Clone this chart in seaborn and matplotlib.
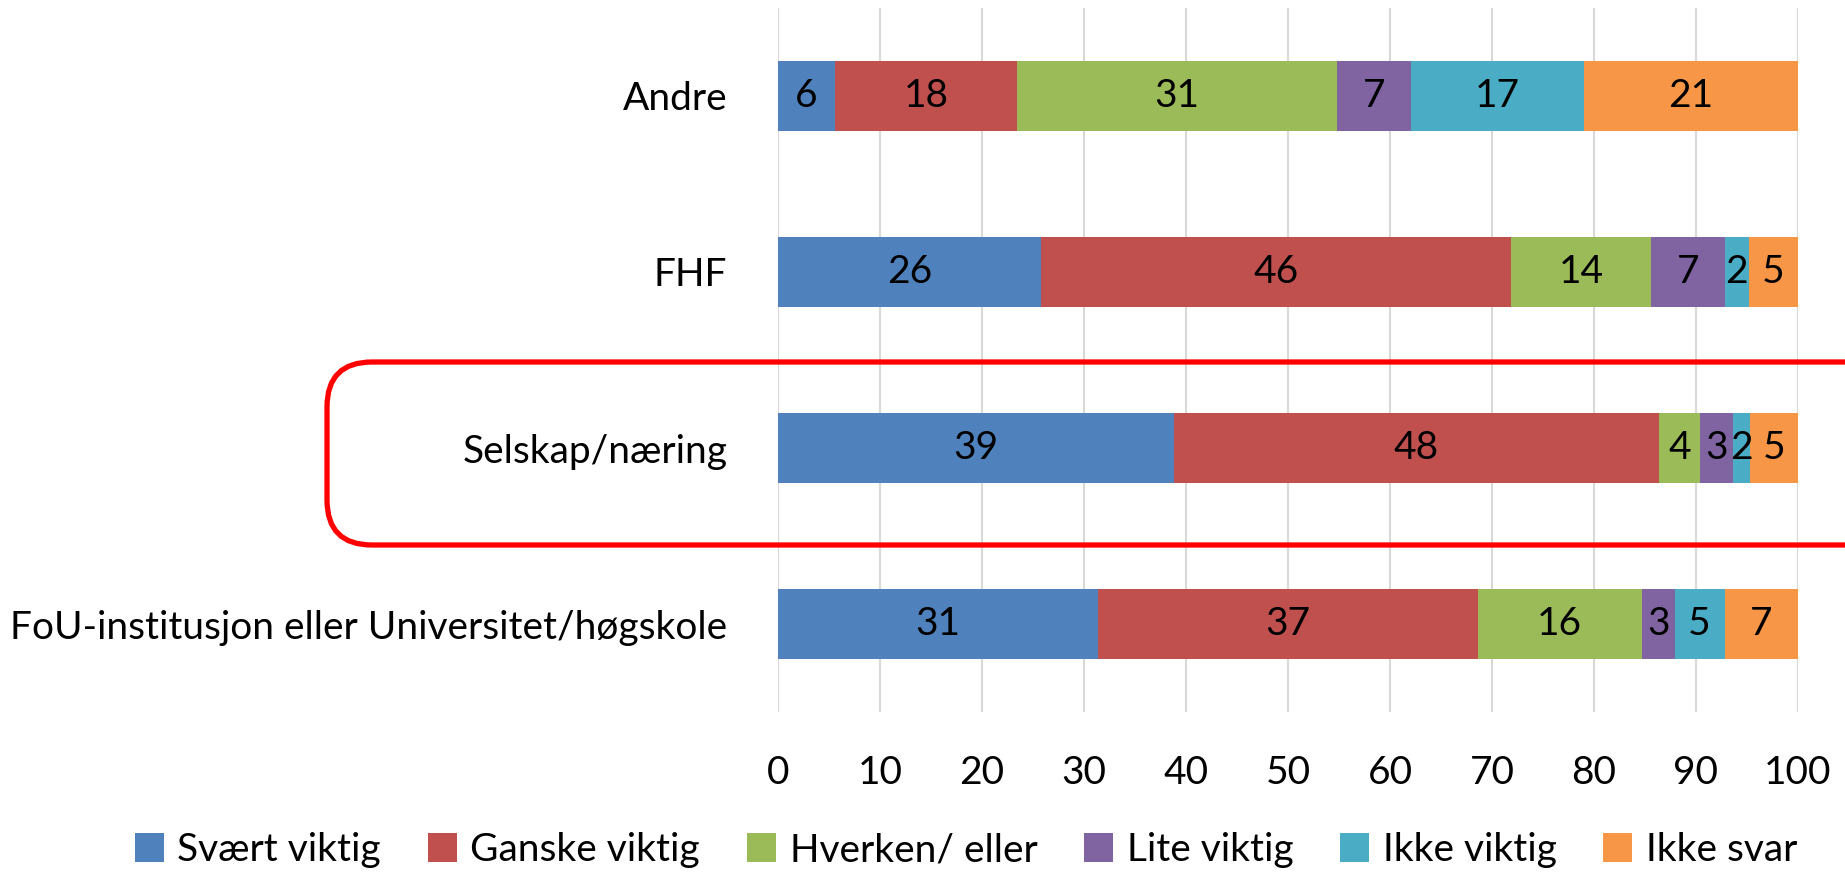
import matplotlib
matplotlib.use("Agg")
import matplotlib.pyplot as plt
from matplotlib.patches import FancyBboxPatch, Patch
from matplotlib.transforms import IdentityTransform
import numpy as np
import pandas as pd
import seaborn as sns

categories = ["Andre", "FHF", "Selskap/næring", "FoU-institusjon eller Universitet/høgskole"]
series = ["Svært viktig", "Ganske viktig", "Hverken/ eller", "Lite viktig", "Ikke viktig", "Ikke svar"]
svaert = [5.6, 25.8, 38.8, 31.4]
ganske = [17.8, 46.1, 47.6, 37.2]
hverken = [31.4, 13.7, 4.0, 16.1]
lite = [7.3, 7.2, 3.2, 3.2]
ikke = [16.9, 2.4, 1.7, 4.9]
ikke_svar = [21.0, 4.8, 4.7, 7.2]
colors = ["#4F81BD", "#C0504D", "#9BBB59", "#8064A2", "#4BACC6", "#F79646"]

sns.set_style("white")
plt.rcParams['font.family'] = ['Lato', 'DejaVu Sans']
plt.rcParams['text.color'] = 'black'
plt.rcParams['xtick.color'] = 'black'
plt.rcParams['ytick.color'] = 'black'
FS = 28

df = pd.DataFrame(np.array([svaert, ganske, hverken, lite, ikke, ikke_svar]).T,
                  columns=series)
df.insert(0, "cat", categories)
cum = df[series].cumsum(axis=1)

fig = plt.figure(figsize=(18.45, 8.72), dpi=100)
ax = fig.add_axes([0.4217, 1 - 712 / 872, 0.9745 - 0.4217, 704 / 872])

# draw cumulative bars from the last series to the first so each visible segment is its value
for s, c in reversed(list(zip(series, colors))):
    sns.barplot(x=cum[s], y=df["cat"], orient="h", color=c, width=0.4,
                linewidth=0, saturation=1, ax=ax)

for i in range(len(categories)):
    left = 0
    for s in series:
        v = df.loc[i, s]
        ax.text(left + v / 2, i, f"{v:.0f}", ha="center", va="center",
                fontsize=FS, color="black")
        left += v

ax.set_xlim(0, 100)
ax.set_ylim(3.5, -0.5)
ax.set_xticks(range(0, 101, 10))
ax.xaxis.grid(True, color="#D9D9D9", linewidth=1.5)
ax.set_axisbelow(True)
for sp in ax.spines.values():
    sp.set_visible(False)
ax.tick_params(axis="x", length=0, labelsize=FS, pad=31)
ax.tick_params(axis="y", length=0, labelsize=FS, pad=36.5)
ax.set_xlabel("")
ax.set_ylabel("")

handles = [Patch(facecolor=c, edgecolor="none") for c in colors]
fig.legend(handles, series, loc="center", bbox_to_anchor=(0.5236, 1 - 850 / 872),
           ncol=6, frameon=False, fontsize=FS, handlelength=0.75, handleheight=0.75,
           handletextpad=0.35, columnspacing=1.2, borderaxespad=0)

box = FancyBboxPatch((327, 872 - 545), 1600, 183,
                     boxstyle="round,pad=0,rounding_size=45",
                     transform=IdentityTransform(), fill=False,
                     edgecolor="#FF0000", linewidth=3.8, clip_on=False)
fig.patches.append(box)

fig.savefig("out.png", dpi=100)
